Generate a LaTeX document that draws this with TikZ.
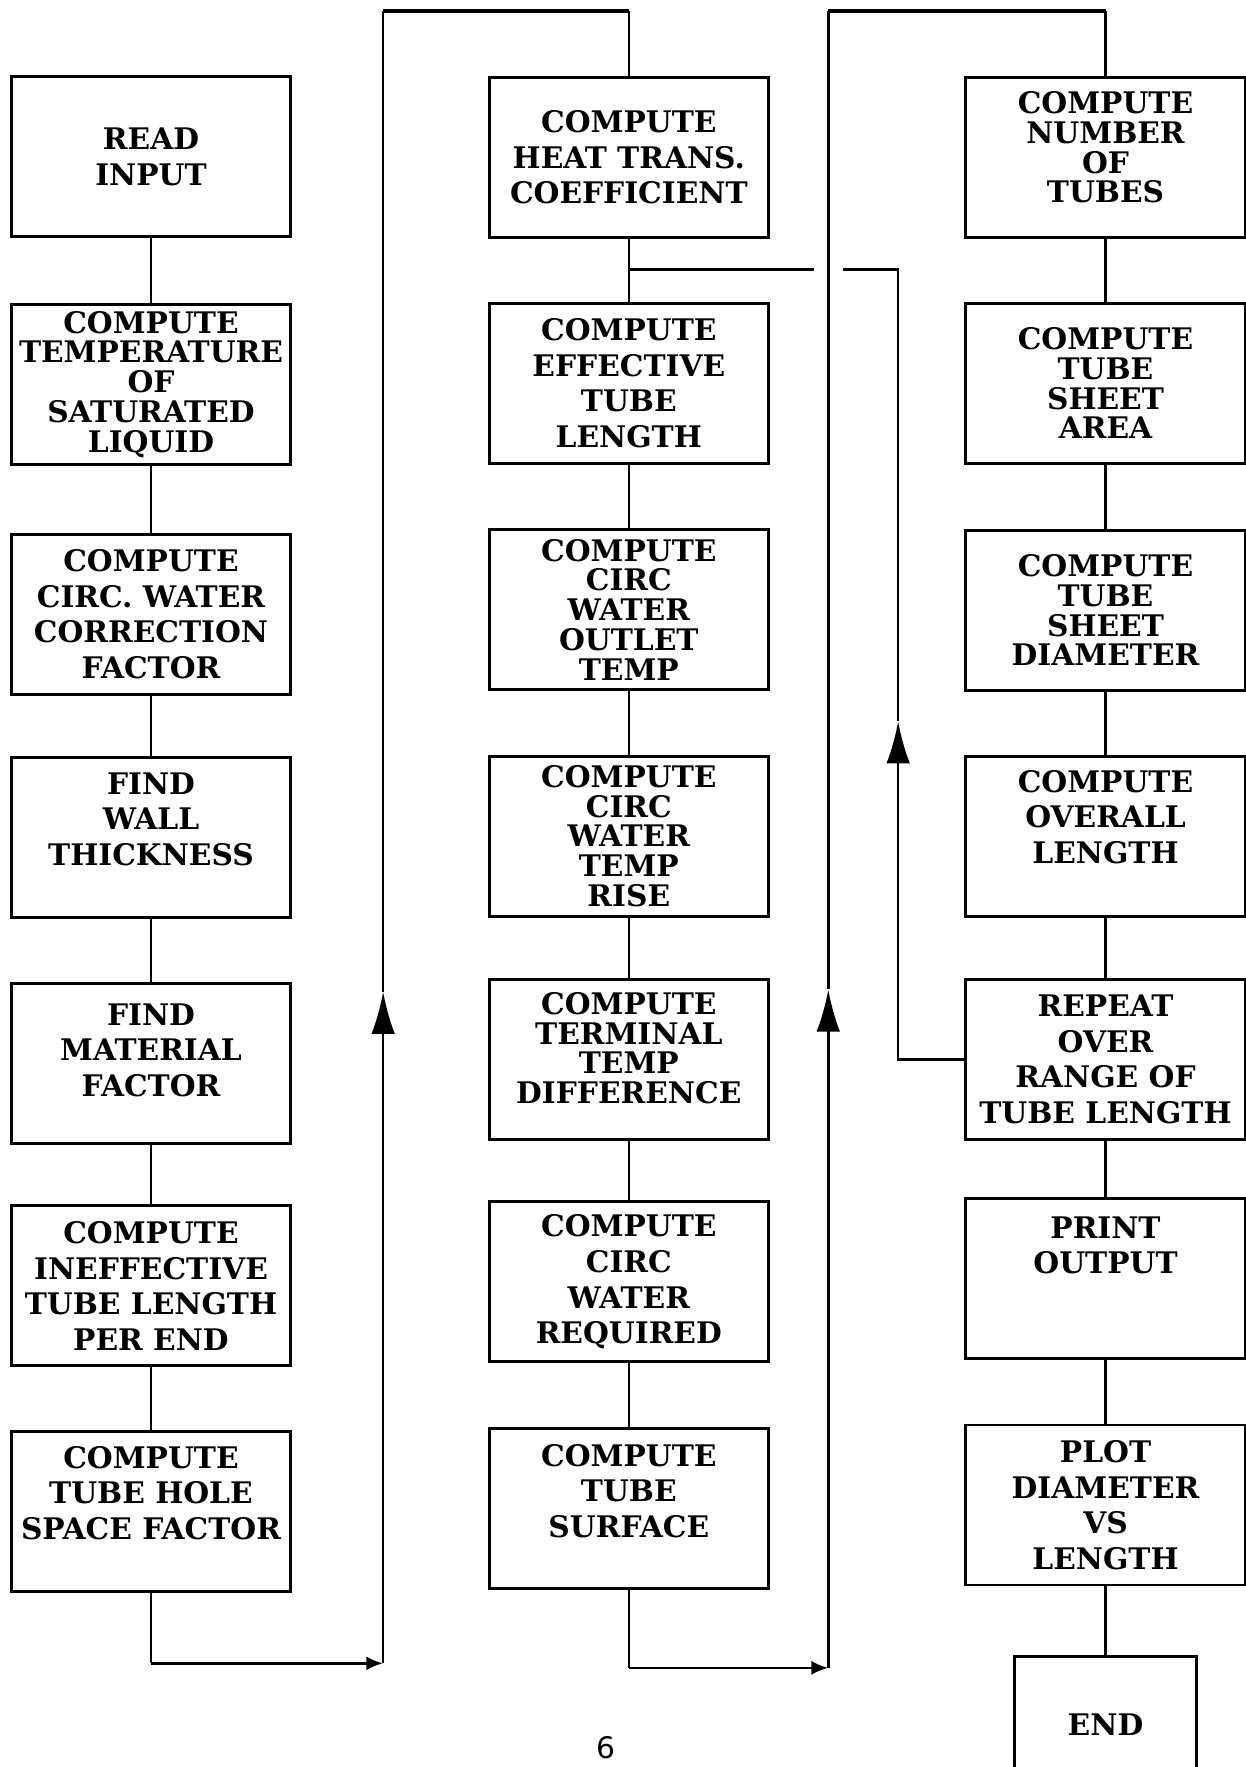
\documentclass[tikz,border=0pt]{standalone}
\usepackage{fontspec}
\setmainfont{DejaVu Serif}
\newfontfamily\pagefont{DejaVu Sans}
\usetikzlibrary{arrows.meta}

\begin{document}
\begin{tikzpicture}[
    x=0.02cm, y=-0.02cm,
    flowbox/.style={draw, line width=1.4pt, minimum width=4.96cm,
                    minimum height=2.84cm, inner sep=0pt, align=center,
                    font=\fontsize{15}{18}\selectfont\bfseries},
    boxtext/.style={inner sep=0pt, align=center,
                    font=\fontsize{15}{18}\selectfont\bfseries},
    tight/.style={font=\fontsize{15}{15}\selectfont\bfseries},
    conn/.style={line width=1.3pt},
    topbar/.style={line width=1.9pt},
    bigtip/.style={-{Latex[length=0.75cm, width=0.42cm]}},
    smalltip/.style={-{Latex[length=0.3cm, width=0.25cm]}},
]
\useasboundingbox (0,0) rectangle (1105,1568);

% --- Column one ---
\node[flowbox] (read)  at (134,139)  {READ\\INPUT};
\node[flowbox, tight] (tsat) at (134,341) {COMPUTE\\TEMPERATURE\\OF\\SATURATED\\LIQUID};
\node[flowbox] (corr)  at (134,545)  {COMPUTE\\CIRC. WATER\\CORRECTION\\FACTOR};
\node[flowbox] (wall)  at (134,743)  {};
\node[boxtext] (wall-t) at (134,727) {FIND\\WALL\\THICKNESS};
\node[flowbox] (matl)  at (134,944)  {};
\node[boxtext] (matl-t) at (134,932) {FIND\\MATERIAL\\FACTOR};
\node[flowbox] (ineff) at (134,1141) {COMPUTE\\INEFFECTIVE\\TUBE LENGTH\\PER END};
\node[flowbox] (hole)  at (134,1341) {};
\node[boxtext] (hole-t) at (134,1325) {COMPUTE\\TUBE HOLE\\SPACE FACTOR};

% --- Column two ---
\node[flowbox] (htc)    at (558,139.5) {COMPUTE\\HEAT TRANS.\\COEFFICIENT};
\node[flowbox] (efflen) at (558,340)   {COMPUTE\\EFFECTIVE\\TUBE\\LENGTH};
\node[flowbox, tight] (outlet) at (558,541) {COMPUTE\\CIRC\\WATER\\OUTLET\\TEMP};
\node[flowbox, tight] (rise)   at (558,742) {COMPUTE\\CIRC\\WATER\\TEMP\\RISE};
\node[flowbox] (ttd)    at (558,940.5) {};
\node[boxtext, tight] (ttd-t) at (558,930) {COMPUTE\\TERMINAL\\TEMP\\DIFFERENCE};
\node[flowbox] (water)  at (558,1137.5) {COMPUTE\\CIRC\\WATER\\REQUIRED};
\node[flowbox] (surf)   at (558,1338.5) {};
\node[boxtext] (surf-t) at (558,1323) {COMPUTE\\TUBE\\SURFACE};

% --- Column three ---
\node[flowbox] (ntubes) at (981,139.5) {};
\node[boxtext, tight] (ntubes-t) at (981,131) {COMPUTE\\NUMBER\\OF\\TUBES};
\node[flowbox, tight] (sharea) at (981,340) {COMPUTE\\TUBE\\SHEET\\AREA};
\node[flowbox, tight] (shdia)  at (981,541.5) {COMPUTE\\TUBE\\SHEET\\DIAMETER};
\node[flowbox] (ovlen)  at (981,742) {};
\node[boxtext] (ovlen-t) at (981,725) {COMPUTE\\OVERALL\\LENGTH};
\node[flowbox] (rpt)    at (981,940)  {REPEAT\\OVER\\RANGE OF\\TUBE LENGTH};
\node[flowbox] (print)  at (981,1134.5) {};
\node[boxtext] (print-t) at (981,1105) {PRINT\\OUTPUT};
\node[flowbox] (plot)   at (981,1335.5) {PLOT\\DIAMETER\\VS\\LENGTH};
\node[flowbox, minimum width=3.24cm, minimum height=2.4cm] (fin) at (981,1530) {END};

% --- Page number ---
\node[font=\pagefont\fontsize{15}{15}\selectfont] (pgno) at (538,1551) {6};

% --- Turning points ---
\coordinate (c1low)    at (134,1476);
\coordinate (c1corner) at (340,1476);
\coordinate (c1mid)    at (340,880);
\coordinate (c1top)    at (340,10);
\coordinate (c1end)    at (558,10);
\coordinate (c2low)    at (558,1480);
\coordinate (c2corner) at (735,1480);
\coordinate (c2mid)    at (735,878);
\coordinate (c2top)    at (735,10);
\coordinate (c2end)    at (981,10);
\coordinate (lpbot)    at (797,940);
\coordinate (lpmid)    at (797,640);
\coordinate (lptop)    at (797,239);
\coordinate (gapR)     at (748,239);
\coordinate (gapL)     at (722,239);
\coordinate (jn)       at (558,239);

% --- Column one connections ---
\draw[conn] (read) -- (tsat);
\draw[conn] (tsat) -- (corr);
\draw[conn] (corr) -- (wall);
\draw[conn] (wall) -- (matl);
\draw[conn] (matl) -- (ineff);
\draw[conn] (ineff) -- (hole);
\draw[conn] (hole) -- (c1low);
\draw[conn, smalltip] (c1low) -- (c1corner);
\draw[conn, bigtip] (c1corner) -- (c1mid);
\draw[conn] (c1mid) -- (c1top);
\draw[conn, topbar] (c1top) -- (c1end);
\draw[conn] (c1end) -- (htc);

% --- Column two connections ---
\draw[conn] (htc) -- (efflen);
\draw[conn] (efflen) -- (outlet);
\draw[conn] (outlet) -- (rise);
\draw[conn] (rise) -- (ttd);
\draw[conn] (ttd) -- (water);
\draw[conn] (water) -- (surf);
\draw[conn] (surf) -- (c2low);
\draw[conn, smalltip] (c2low) -- (c2corner);
\draw[conn, bigtip] (c2corner) -- (c2mid);
\draw[conn] (c2mid) -- (c2top);
\draw[conn, topbar] (c2top) -- (c2end);
\draw[conn] (c2end) -- (ntubes);

% --- Column three connections ---
\draw[conn] (ntubes) -- (sharea);
\draw[conn] (sharea) -- (shdia);
\draw[conn] (shdia) -- (ovlen);
\draw[conn] (ovlen) -- (rpt);
\draw[conn] (rpt) -- (print);
\draw[conn] (print) -- (plot);
\draw[conn] (plot) -- (fin);

% --- Repeat loop ---
\draw[conn, bigtip] (rpt) -- (lpbot) -- (lpmid);
\draw[conn] (lpmid) -- (lptop) -- (gapR);
\draw[conn] (gapL) -- (jn);

\end{tikzpicture}
\end{document}
